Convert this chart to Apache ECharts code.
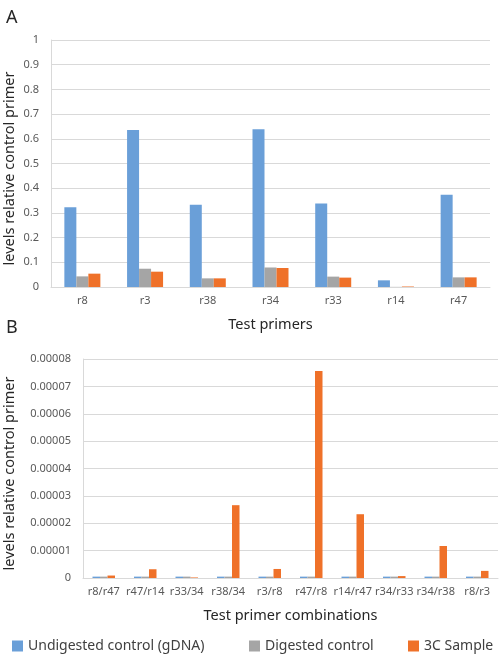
<!DOCTYPE html>
<html>
<head>
<meta charset="utf-8">
<script src="https://cdn.jsdelivr.net/npm/echarts@6/dist/echarts.min.js"></script>
<style>html,body{margin:0;padding:0;background:#fff}#c{width:499px;height:661px}</style>
</head>
<body>
<div id="c"></div>
<script>
const seriesNames = ['Undigested control (gDNA)', 'Digested control', '3C Sample'];
const colors = ['#6a9fd8', '#a5a5a5', '#ef7129'];

const topCategories = ['r8', 'r3', 'r38', 'r34', 'r33', 'r14', 'r47'];
const topUndigested = [0.323, 0.636, 0.333, 0.639, 0.338, 0.027, 0.373];
const topDigested   = [0.043, 0.074, 0.035, 0.079, 0.042, 0.0005, 0.039];
const top3C         = [0.054, 0.062, 0.035, 0.077, 0.038, 0.002, 0.039];
const topTicks = [0, 0.1, 0.2, 0.3, 0.4, 0.5, 0.6, 0.7, 0.8, 0.9, 1];

const botCategories = ['r8/r47', 'r47/r14', 'r33/34', 'r38/34', 'r3/r8', 'r47/r8', 'r14/r47', 'r34/r33', 'r34/r38', 'r8/r3'];
const botUndigested = [0.0000005, 0.0000005, 0.0000005, 0.0000005, 0.0000005, 0.0000005, 0.0000005, 0.0000005, 0.0000005, 0.0000005];
const botDigested   = [0.0000005, 0.0000005, 0.0000005, 0.0000005, 0.0000005, 0.0000005, 0.0000005, 0.0000005, 0.0000005, 0.0000005];
const bot3C         = [0.0000009, 0.0000032, 0.0000002, 0.0000266, 0.0000033, 0.0000756, 0.0000233, 0.0000007, 0.0000117, 0.0000026];
const botTicks = [0, 0.00001, 0.00002, 0.00003, 0.00004, 0.00005, 0.00006, 0.00007, 0.00008];

const FONT = 'Noto Sans';
const chart = echarts.init(document.getElementById('c'));

function yAxis(gridIndex, ticks, fmt) {
  return {
    type: 'value', gridIndex: gridIndex,
    min: ticks[0], max: ticks[ticks.length - 1], interval: ticks[1] - ticks[0],
    name: 'levels relative control primer', nameLocation: 'middle', nameGap: gridIndex === 0 ? 34 : 66,
    nameMoveOverlap: false,
    nameTextStyle: { fontFamily: FONT, fontSize: 14.5, color: '#262626', padding: [0, 10, 0, 0] },
    axisLine: { show: true, lineStyle: { color: '#d9d9d9' } },
    axisTick: { show: false },
    axisLabel: { fontFamily: FONT, fontSize: 11, color: '#595959', margin: 12, formatter: fmt },
    splitLine: { lineStyle: { color: '#d9d9d9', width: 1 } }
  };
}
function xAxis(gridIndex, cats, name, gap) {
  return {
    type: 'category', gridIndex: gridIndex, data: cats,
    name: name, nameLocation: 'middle', nameGap: gap,
    nameMoveOverlap: false,
    nameTextStyle: { fontFamily: FONT, fontSize: 14.5, color: '#262626' },
    axisLine: { show: true, lineStyle: { color: '#d9d9d9' } },
    axisTick: { show: false },
    axisLabel: { fontFamily: FONT, fontSize: 11, color: '#595959', margin: 8, interval: 0 }
  };
}
function bars(gridIndex, data, width) {
  return data.map((d, i) => ({
    type: 'bar', name: seriesNames[i], xAxisIndex: gridIndex, yAxisIndex: gridIndex,
    data: d, barWidth: width, barGap: '0%', itemStyle: { color: colors[i] },
    emphasis: { disabled: true }
  }));
}
const legendBase = { top: 634, itemWidth: 11, itemHeight: 11, itemGap: 6,
  textStyle: { fontFamily: FONT, fontSize: 14, color: '#404040' }, icon: 'rect' };

chart.setOption({
  animation: false,
  color: colors,
  title: [
    { text: 'A', left: 1, top: 4, textStyle: { fontFamily: FONT, fontSize: 18, fontWeight: 'normal', color: '#262626' } },
    { text: 'B', left: 1, top: 314, textStyle: { fontFamily: FONT, fontSize: 18, fontWeight: 'normal', color: '#262626' } }
  ],
  legend: [
    Object.assign({}, legendBase, { left: 7, data: [seriesNames[0]] }),
    Object.assign({}, legendBase, { left: 244, data: [seriesNames[1]] }),
    Object.assign({}, legendBase, { left: 403, data: [seriesNames[2]] })
  ],
  grid: [
    { left: 51, right: 9, top: 40, height: 247, outerBoundsMode: 'none', containLabel: false },
    { left: 83, right: 1, top: 359, height: 219, outerBoundsMode: 'none', containLabel: false }
  ],
  xAxis: [
    xAxis(0, topCategories, 'Test primers', 30),
    xAxis(1, botCategories, 'Test primer combinations', 30)
  ],
  yAxis: [
    yAxis(0, topTicks, v => String(+v.toFixed(1))),
    yAxis(1, botTicks, v => v === 0 ? '0' : v.toFixed(5))
  ],
  series: [].concat(
    bars(0, [topUndigested, topDigested, top3C], 12),
    bars(1, [botUndigested, botDigested, bot3C], 7.5)
  )
});
</script>
</body>
</html>
